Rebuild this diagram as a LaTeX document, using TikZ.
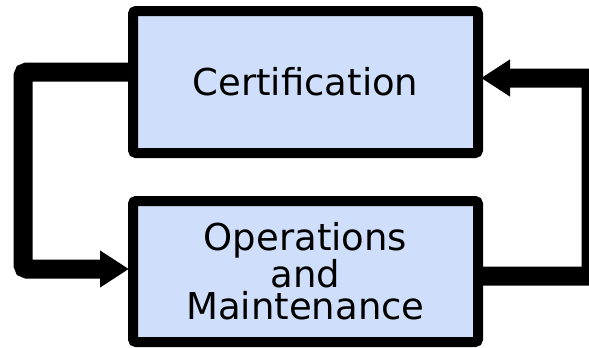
\documentclass[tikz,border=0pt]{standalone}
\usepackage{fontspec}
\setsansfont{DejaVu Sans}
\usetikzlibrary{arrows.meta}
\definecolor{boxblue}{RGB}{207,222,250}
\tikzset{
  phase/.style={draw=black, line width=10pt, fill=boxblue, rounded corners=3pt,
    minimum width=345pt, align=center, font=\sffamily\fontsize{37}{32}\selectfont},
  feedback/.style={line width=19pt, rounded corners=4pt, -{Triangle[length=29pt,width=35pt]}}
}

\begin{document}
\begin{tikzpicture}[x=1pt,y=-1pt]
\useasboundingbox (0,0) rectangle (589,348);
\node[phase, minimum height=142pt] (cert) at (305.5,82) {Certification};
\node[phase, minimum height=141pt] (ops) at (305.5,271.5) {Operations\\and\\Maintenance};
\draw[feedback] ([yshift=10pt]cert.west) -| (23,180) |- ([xshift=1pt,yshift=2.5pt]ops.west);
\draw[feedback] ([yshift=-4.5pt]ops.east) -| (591,180) |- ([xshift=-2pt,yshift=4pt]cert.east);
\end{tikzpicture}
\end{document}
